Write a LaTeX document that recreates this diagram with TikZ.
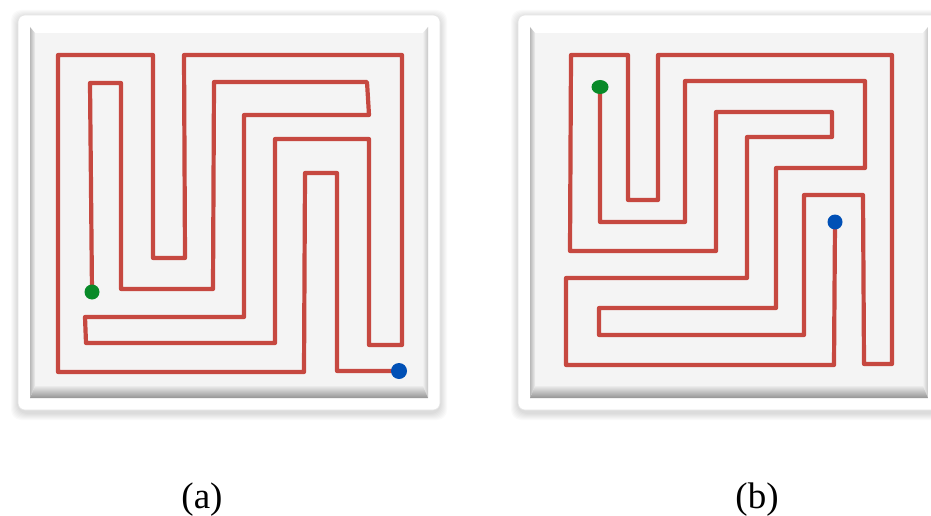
\documentclass[tikz,border=0pt]{standalone}
\usepackage{fontspec}
\setmainfont{Liberation Serif}
\definecolor{mazered}{RGB}{198,72,64}
\definecolor{dotgreen}{RGB}{8,138,40}
\definecolor{dotblue}{RGB}{0,80,182}
\definecolor{facegray}{RGB}{244,244,244}
\newcommand{\mazeframe}{%
  \foreach \i in {1,...,7}
    \fill[black, opacity=0.02, rounded corners=10pt] (18-\i,15-\i+2) rectangle (440+\i,410+\i+3);
  \fill[white, draw=black!10, line width=0.6pt, rounded corners=7pt] (18,15) rectangle (440,410);
  \fill[facegray] (30,27) rectangle (428,398);
  \fill[white] (30,27) -- (428,27) -- (423,33) -- (35,33) -- cycle;
  \shade[left color=black!28, right color=black!6] (30,27) -- (35,33) -- (35,386) -- (30,398) -- cycle;
  \shade[left color=black!6, right color=black!22] (428,27) -- (423,33) -- (423,386) -- (428,398) -- cycle;
  \shade[top color=black!8, bottom color=black!42] (30,398) -- (35,386) -- (423,386) -- (428,398) -- cycle;
}
\begin{document}
\begin{tikzpicture}[x=1pt,y=-1pt,
  maze/.style={draw=mazered, line width=4.2pt, line join=round, line cap=round},
  lab/.style={font=\fontsize{37}{44}\selectfont, anchor=base, inner sep=0pt}]
\fill[white] (0,0) rectangle (931,516);
\useasboundingbox (0,0) rectangle (931,516);
\clip (0,0) rectangle (931,516);
% panel (a)
\mazeframe
% panel (b)
\begin{scope}[shift={(500,0)}]
\mazeframe
\end{scope}
% maze (a)
\draw[maze] (92,292) -- (90,83) -- (121,83) -- (121,289) -- (213,289) -- (214,82)
  -- (367,82) -- (369,115) -- (244,115) -- (244,317) -- (85,317) -- (86,343)
  -- (275,343) -- (275,139) -- (369,139) -- (369,345) -- (402,345) -- (402,55)
  -- (184,55) -- (185,258) -- (153,258) -- (153,55) -- (58,55) -- (58,372)
  -- (304,372) -- (305,173) -- (337,173) -- (337,371) -- (399,371);
\fill[dotgreen] (92,292) circle[radius=7.5];
\fill[dotblue] (399,371) circle[radius=8];
% maze (b)
\draw[maze] (600,87) -- (600,222) -- (685,222) -- (685,81) -- (865,81) -- (865,168)
  -- (776,168) -- (776,308) -- (599,308) -- (599,335) -- (804,335) -- (804,195)
  -- (863,195) -- (864,364) -- (892,364) -- (892,55) -- (658,55) -- (658,200)
  -- (628,200) -- (628,55) -- (571,55) -- (570,251) -- (716,251) -- (716,112)
  -- (832,112) -- (832,137) -- (747,137) -- (747,278) -- (566,278) -- (566,365)
  -- (834,365) -- (835,222);
\fill[dotgreen] (600,87) ellipse[x radius=8.5, y radius=7];
\fill[dotblue] (835,222) circle[radius=7.5];
% labels
\node[lab] (la) at (202,508) {(a)};
\node[lab] (lb) at (757,508) {(b)};
\end{tikzpicture}
\end{document}
